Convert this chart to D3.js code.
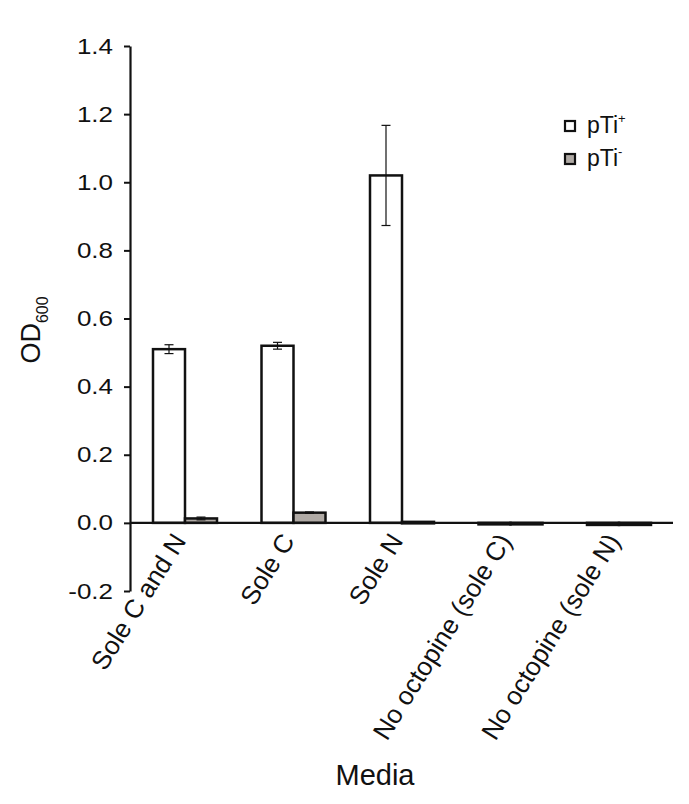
<!DOCTYPE html>
<html>
<head>
<meta charset="utf-8">
<script src="https://cdn.jsdelivr.net/npm/d3@7"></script>
<style>
  body { margin: 0; background: #fff; }
  text { font-family: "Liberation Sans", Arial, sans-serif; fill: #111; }
</style>
</head>
<body>
<div id="chart"></div>
<script>
const categories = ['Sole C and N', 'Sole C', 'Sole N', 'No octopine (sole C)', 'No octopine (sole N)'];
const seriesNames = ['pTi+', 'pTi-'];
const plusValues = [0.51, 0.52, 1.02, -0.004, -0.006];
const plusErrors = [0.013, 0.01, 0.147, 0.002, 0.002];
const minusValues = [0.013, 0.03, 0.003, -0.002, -0.006];
const minusErrors = [0.004, 0.002, 0.001, 0.001, 0.001];
const yTicks = [-0.2, 0, 0.2, 0.4, 0.6, 0.8, 1.0, 1.2, 1.4];

const width = 689, height = 804;
const margin = {top: 46, right: 16, bottom: 213, left: 130};

const svg = d3.select('#chart').append('svg')
  .attr('width', width)
  .attr('height', height);

const y = d3.scaleLinear().domain([-0.2, 1.4]).range([height - margin.bottom, margin.top]);
const x = d3.scaleBand().domain(categories).range([130.75, 673.25]);
const xSub = d3.scaleBand().domain(seriesNames).range([x.bandwidth()/2 - 32, x.bandwidth()/2 + 32]);

const colors = {'pTi+': '#ffffff', 'pTi-': '#b0aaa5'};

// rows: one per bar
const rows = [];
categories.forEach((c, i) => {
  rows.push({cat: c, s: 'pTi+', v: plusValues[i], e: plusErrors[i]});
  rows.push({cat: c, s: 'pTi-', v: minusValues[i], e: minusErrors[i]});
});

// bars
svg.append('g').selectAll('rect')
  .data(rows)
  .join('rect')
  .attr('x', d => x(d.cat) + xSub(d.s))
  .attr('width', xSub.bandwidth())
  .attr('y', d => y(Math.max(0, d.v)))
  .attr('height', d => Math.max(Math.abs(y(d.v) - y(0)), 1.5))
  .attr('fill', d => colors[d.s])
  .attr('stroke', '#111')
  .attr('stroke-width', 2.5);

// error bars
const eb = svg.append('g').attr('stroke', '#111').attr('stroke-width', 1.2);
rows.filter(d => d.v > 0.005).forEach(d => {
  const cx = x(d.cat) + xSub(d.s) + xSub.bandwidth()/2;
  eb.append('line').attr('x1', cx).attr('x2', cx).attr('y1', y(d.v + d.e)).attr('y2', y(d.v - d.e));
  [d.v + d.e, d.v - d.e].forEach(v => {
    eb.append('line').attr('x1', cx - 4.5).attr('x2', cx + 4.5).attr('y1', y(v)).attr('y2', y(v));
  });
});

// y axis
const yAxis = svg.append('g')
  .attr('transform', `translate(${margin.left},0)`)
  .call(d3.axisLeft(y).tickValues(yTicks).tickSize(6).tickSizeOuter(0).tickPadding(11));
yAxis.select('.domain').attr('stroke', '#111').attr('stroke-width', 2.2);
yAxis.selectAll('.tick line').attr('stroke', '#111').attr('stroke-width', 2);
// labels in the source look a little wide, so stretch them horizontally
yAxis.selectAll('.tick text').style('font-size', '22px').attr('fill', '#111')
  .attr('x', -17 / 1.18)
  .attr('transform', 'scale(1.18,1)')
  .text(d => d3.format('.1f')(d).replace('−', '-'));

// zero baseline
svg.append('line')
  .attr('x1', margin.left).attr('x2', 673)
  .attr('y1', y(0)).attr('y2', y(0))
  .attr('stroke', '#111').attr('stroke-width', 2.2);

// x labels
svg.append('g').selectAll('text')
  .data(categories)
  .join('text')
  .attr('transform', d => `translate(${x(d) + x.bandwidth()/2 + 2},${y(0) + 18}) rotate(-58)`)
  .attr('text-anchor', 'end')
  .style('font-size', '26px')
  .text(d => d);

// axis titles
const yl = svg.append('text')
  .attr('transform', `translate(40,330) rotate(-90)`)
  .attr('text-anchor', 'middle')
  .style('font-size', '27px');
yl.append('tspan').text('OD');
yl.append('tspan').attr('dy', 8).style('font-size', '16px').text('600');

svg.append('text')
  .attr('x', 375).attr('y', 785)
  .attr('text-anchor', 'middle')
  .style('font-size', '29px')
  .text('Media');

// legend
const legend = svg.append('g').attr('transform', 'translate(565,121)');
seriesNames.forEach((s, i) => {
  const g = legend.append('g').attr('transform', `translate(0,${i * 33})`);
  g.append('rect').attr('x', 0).attr('y', 0).attr('width', 10).attr('height', 10)
    .attr('fill', colors[s]).attr('stroke', '#111').attr('stroke-width', 2.2);
  const t = g.append('text').attr('x', 22).attr('y', 12).style('font-size', '23px');
  t.append('tspan').text('pTi');
  t.append('tspan').attr('dy', -10).style('font-size', '13px').text(s.slice(3));
});
</script>
</body>
</html>
